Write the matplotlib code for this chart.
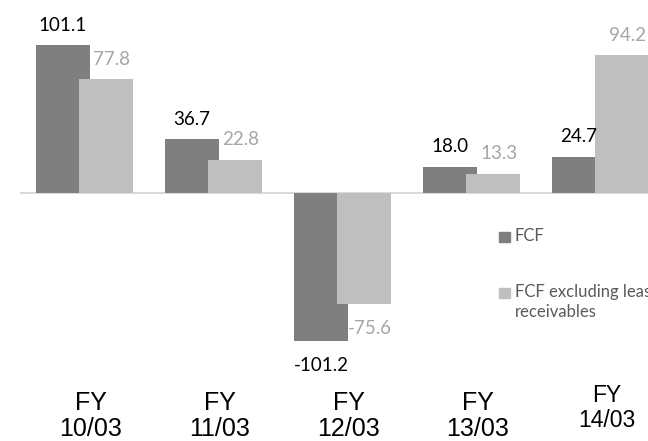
import matplotlib
matplotlib.use("Agg")
import matplotlib.pyplot as plt
from matplotlib.patches import Rectangle
import numpy as np

categories = ["FY\n10/03", "FY\n11/03", "FY\n12/03", "FY\n13/03", "FY\n14/03"]
series_names = ["FCF", "FCF excluding lease\nreceivables"]
fcf = [101.1, 36.7, -101.2, 18.0, 24.7]
fcf_ex = [77.8, 22.8, -75.6, 13.3, 94.2]

dark = "#7f7f7f"
light = "#bfbfbf"
W, H = 648, 441
fig = plt.figure(figsize=(W / 100, H / 100), dpi=100)
ax = fig.add_axes([20 / W, 0, 645 / W, 1])
ax.set_xlim(-0.5, 4.5)
ax.set_ylim(-(H - 193) / 1.462, 193 / 1.462)
for s in ax.spines.values():
    s.set_visible(False)
ax.set_xticks([])
ax.set_yticks([])
ax.patch.set_alpha(0)

x = np.arange(len(categories))
off = 43 / 129 / 2
bw = 54 / 129
ax.axhline(0, color="#d9d9d9", lw=1.4, zorder=1)
ax.bar(x - off, fcf, bw, color=dark, zorder=2)
ax.bar(x + off, fcf_ex, bw, color=light, zorder=3)

vfont = dict(family=["Lato", "DejaVu Sans"], fontsize=13.5)
for xi, v in zip(x, fcf):
    dy = 20 if v >= 0 else -25
    ax.annotate(f"{v:.1f}", (xi - off, v), xytext=(0, dy), textcoords="offset pixels",
                ha="center", va="center", color="#000000", zorder=5, **vfont)
for xi, v in zip(x, fcf_ex):
    dy = 20 if v >= 0 else -25
    ax.annotate(f"{v:.1f}", (xi + off, v), xytext=(6, dy), textcoords="offset pixels",
                ha="center", va="center", color="#a6a6a6", zorder=5, **vfont)

# category labels
for i, (xi, lab) in enumerate(zip(x, categories)):
    last = i == len(categories) - 1
    ax.text(xi + 0.05, 1 - (408 if last else 416) / H, lab,
            transform=ax.get_xaxis_transform(), ha="center", va="center",
            family=["Liberation Sans", "DejaVu Sans"], fontsize=16.5 if last else 18,
            linespacing=1.1, color="#000000")

# legend
lfont = dict(family=["Lato", "DejaVu Sans"], fontsize=12, color="#595959")
box_top = [232, 288]
for name, col, yt in zip(series_names, [dark, light], box_top):
    fig.patches.append(Rectangle((499 / W, 1 - (yt + 10) / H), 11 / W, 10 / H,
                                 transform=fig.transFigure, color=col))
    fig.text(515 / W, 1 - (yt - 4) / H, name, ha="left", va="top",
             linespacing=1.3, **lfont)

fig.savefig("out.png", dpi=100)
